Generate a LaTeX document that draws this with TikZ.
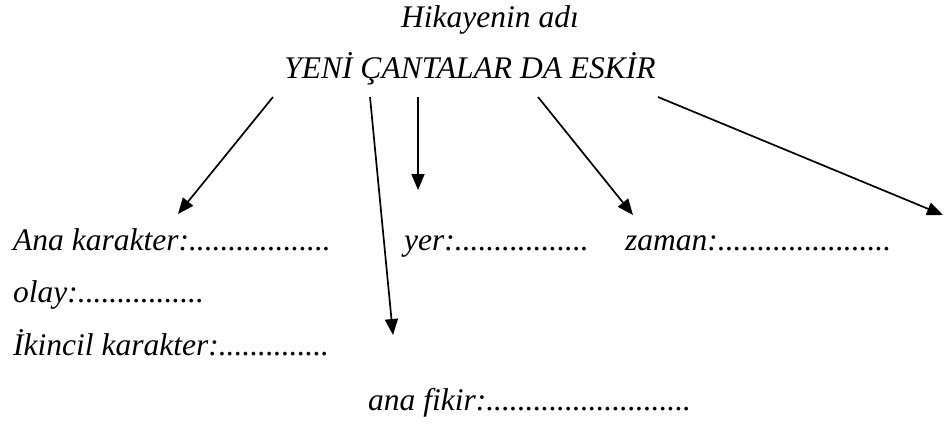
\documentclass[tikz,border=0pt]{standalone}
\usepackage{fontspec}
\setmainfont{Liberation Serif}
\usetikzlibrary{arrows.meta}
\tikzstyle{heading} = [anchor=base, inner sep=0pt,
    font=\fontsize{31.5}{38}\selectfont\itshape]
\tikzstyle{entry} = [anchor=base west, inner sep=0pt,
    font=\fontsize{31.5}{38}\selectfont\itshape]
\tikzstyle{pointer} = [->, line width=1.7pt]

\begin{document}
\begin{tikzpicture}[x=1pt, y=-1pt, >={Triangle[length=16pt,width=13pt]}]
\useasboundingbox (0,0) rectangle (944,429);

\node [heading] (header) at (490,27) {Hikayenin adı};
\node [heading] (story) at (470,78) {YENİ ÇANTALAR DA ESKİR};

\node [entry] (main) at (13,250) {Ana karakter:..................};
\node [entry] (place) at (404,250) {yer:.................};
\node [entry] (time) at (625,250) {zaman:......................};
\node [entry] (event) at (13,302) {olay:................};
\node [entry] (second) at (13,355) {İkincil karakter:..............};
\node [entry] (idea) at (368,410) {ana fikir:..........................};

% arrow ends
\coordinate (mainFrom) at (273,97);
\coordinate (mainTo) at (178,214);
\coordinate (secondFrom) at (370,97);
\coordinate (secondTo) at (393,335);
\coordinate (placeFrom) at (418,97);
\coordinate (placeTo) at (418,190);
\coordinate (timeFrom) at (538,97);
\coordinate (timeTo) at (633,215);
\coordinate (edgeFrom) at (658,97);
\coordinate (edgeTo) at (943,215);

\draw [pointer] (mainFrom) -- (mainTo);
\draw [pointer] (secondFrom) -- (secondTo);
\draw [pointer] (placeFrom) -- (placeTo);
\draw [pointer] (timeFrom) -- (timeTo);
\draw [pointer] (edgeFrom) -- (edgeTo);

\end{tikzpicture}
\end{document}
